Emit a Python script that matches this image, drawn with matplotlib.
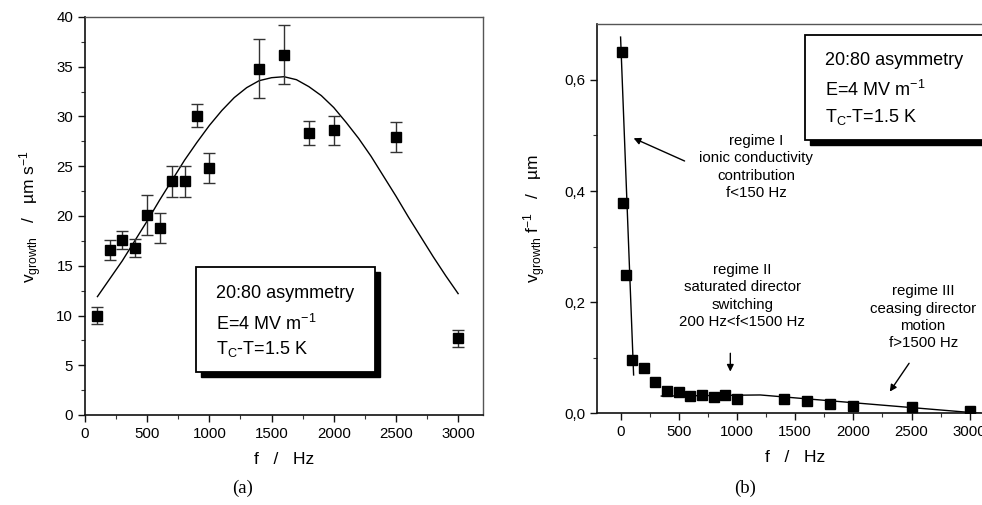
import numpy as np
import matplotlib
matplotlib.use("Agg")
import matplotlib.pyplot as plt
from matplotlib.patches import Rectangle

# growth velocity vs. frequency, with error bars
f_a = [100, 200, 300, 400, 500, 600, 700, 800, 900, 1000, 1400, 1600, 1800, 2000, 2500, 3000]
v_a = [10.0, 16.6, 17.6, 16.8, 20.1, 18.8, 23.5, 23.5, 30.1, 24.8, 34.8, 36.2, 28.3, 28.6, 27.9, 7.7]
err_a = [0.85, 1.0, 0.9, 0.9, 2.0, 1.5, 1.55, 1.55, 1.2, 1.5, 2.95, 2.95, 1.2, 1.5, 1.5, 0.85]

# fitted curve through panel (a)
f_fit = [100, 200, 300, 400, 500, 600, 700, 800, 900, 1000, 1100, 1200, 1300, 1400, 1500,
         1600, 1700, 1800, 1900, 2000, 2100, 2200, 2300, 2400, 2500, 2600, 2700, 2800, 2900, 3000]
v_fit = [11.9, 13.7, 15.5, 17.5, 19.5, 21.6, 23.6, 25.6, 27.4, 29.1, 30.6, 31.9, 32.9, 33.6, 33.9,
         34.0, 33.7, 33.0, 32.1, 30.9, 29.4, 27.8, 26.0, 24.0, 22.0, 19.9, 17.9, 15.9, 14.0, 12.2]

# growth per cycle (v / f)
f_b = [10, 25, 50, 100, 200, 300, 400, 500, 600, 700, 800, 900, 1000, 1400, 1600, 1800, 2000, 2500, 3000]
r_b = [0.651, 0.378, 0.248, 0.096, 0.081, 0.057, 0.041, 0.039, 0.031, 0.033, 0.030, 0.033,
       0.025, 0.025, 0.022, 0.016, 0.014, 0.011, 0.005]

# guide lines for the three regimes
f_reg1 = [0, 112]
r_reg1 = [0.677, 0.069]
f_reg23 = [350, 1200, 3090]
r_reg23 = [0.031, 0.033, 0.0]

yticks_b = [0.0, 0.2, 0.4, 0.6]
yticklabels_b = ["0,0", "0,2", "0,4", "0,6"]
xticks = [0, 500, 1000, 1500, 2000, 2500, 3000]

legend_lines = ["20:80 asymmetry", r"E=4 MV m$^{\mathrm{-1}}$", r"T$_{\mathrm{C}}$-T=1.5 K"]

SANS = "Liberation Sans"
plt.rcParams["font.family"] = [SANS, "DejaVu Sans"]
plt.rcParams["mathtext.fontset"] = "custom"
plt.rcParams["mathtext.rm"] = SANS
plt.rcParams["mathtext.it"] = SANS + ":italic"
plt.rcParams["mathtext.bf"] = SANS + ":bold"
plt.rcParams["mathtext.default"] = "regular"

W, H = 982, 505
fig = plt.figure(figsize=(W / 100, H / 100), dpi=100)


def px_axes(left, top, right, bottom):
    return fig.add_axes([left / W, 1 - bottom / H, (right - left) / W, (bottom - top) / H])


def box_with_shadow(ax, x0, y0, x1, y1, dx, dy):
    shadow = Rectangle((x0 + dx, y0 - dy), x1 - x0, y1 - y0, transform=ax.transAxes,
                       facecolor="black", edgecolor="black", clip_on=False, zorder=4)
    box = Rectangle((x0, y0), x1 - x0, y1 - y0, transform=ax.transAxes,
                    facecolor="white", edgecolor="black", lw=1.3, clip_on=False, zorder=5)
    ax.add_patch(shadow)
    ax.add_patch(box)


def style_axes(ax):
    for side in ("left", "bottom"):
        ax.spines[side].set_linewidth(1.2)
        ax.spines[side].set_color("#111111")
    for side in ("top", "right"):
        ax.spines[side].set_linewidth(1.0)
        ax.spines[side].set_color("#555555")
    ax.tick_params(which="major", direction="out", length=5, width=1, color="#111111",
                   labelsize=10.8)
    ax.tick_params(which="minor", direction="out", length=3, width=0.8, color="#333333")


# ---- (a) ----
ax1 = px_axes(85, 17, 483, 415)
ax1.errorbar(f_a, v_a, yerr=err_a, fmt="s", color="black", ms=7.2, ecolor="#333333",
             elinewidth=1.0, capsize=4, capthick=1.0, zorder=3)
ax1.plot(f_fit, v_fit, color="black", lw=1.0, zorder=2)
ax1.set_xlim(0, 3200)
ax1.set_ylim(0, 40)
ax1.set_xticks(xticks)
ax1.set_xticks(np.arange(250, 3200, 500), minor=True)
ax1.set_yticks(np.arange(0, 41, 5))
ax1.set_yticks(np.arange(2.5, 40, 5), minor=True)
style_axes(ax1)
ax1.set_xlabel("f   /   Hz", fontsize=12.5, labelpad=8)
ax1.set_ylabel(r"v$_{\mathrm{growth}}$   /   µm s$^{\mathrm{-1}}$", fontsize=12.5, labelpad=9)

box_with_shadow(ax1, 0.278, 0.109, 0.729, 0.3726, 0.0126, 0.0126)
for txt, yy in zip(legend_lines, [0.306, 0.230, 0.167]):
    ax1.text(0.329, yy, txt, transform=ax1.transAxes, fontsize=13, va="center", ha="left", zorder=6)

# ---- (b) ----
ax2 = px_axes(597.3, 24.3, 993, 413.3)
ax2.plot(f_reg1, r_reg1, color="black", lw=1.0, zorder=2)
ax2.plot(f_reg23, r_reg23, color="black", lw=1.0, zorder=2)
ax2.plot(f_b, r_b, "s", color="black", ms=6.6, zorder=3)
ax2.set_xlim(-200, 3200)
ax2.set_ylim(0, 0.7)
ax2.set_xticks(xticks)
ax2.set_xticks(np.arange(250, 3200, 500), minor=True)
ax2.set_yticks(yticks_b)
ax2.set_yticklabels(yticklabels_b)
ax2.set_yticks([0.1, 0.3, 0.5], minor=True)
style_axes(ax2)
ax2.set_xlabel("f   /   Hz", fontsize=12.5, labelpad=8)
ax2.set_ylabel(r"v$_{\mathrm{growth}}$ f$^{\mathrm{-1}}$   /   µm", fontsize=12.5, labelpad=12)

box_with_shadow(ax2, 0.525, 0.7026, 1.02, 0.9725, 0.0126, 0.0126)
for txt, yy in zip(legend_lines, [0.9057, 0.831, 0.7625]):
    ax2.text(0.575, yy, txt, transform=ax2.transAxes, fontsize=13, va="center", ha="left", zorder=6)

note_kw = dict(fontsize=10.8, ha="center", va="center", linespacing=1.3)
ax2.text(1167, 0.443, "regime I\nionic conductivity\ncontribution\nf<150 Hz", **note_kw)
ax2.text(1045, 0.211, "regime II\nsaturated director\nswitching\n200 Hz<f<1500 Hz", **note_kw)
ax2.text(2600, 0.173, "regime III\nceasing director\nmotion\nf>1500 Hz", **note_kw)

arrow_kw = dict(arrowstyle="-|>", color="black", lw=1.0, mutation_scale=10, shrinkA=0, shrinkB=0)
ax2.annotate("", xy=(112, 0.495), xytext=(550, 0.454), arrowprops=arrow_kw)
ax2.annotate("", xy=(943, 0.075), xytext=(943, 0.108), arrowprops=arrow_kw)
ax2.annotate("", xy=(2313, 0.039), xytext=(2479, 0.090), arrowprops=arrow_kw)

fig.text(243 / W, 1 - 488 / H, "(a)", family="Liberation Serif", fontsize=13.5, ha="center", va="center")
fig.text(745 / W, 1 - 488 / H, "(b)", family="Liberation Serif", fontsize=13.5, ha="center", va="center")

fig.savefig("out.png", dpi=100)
